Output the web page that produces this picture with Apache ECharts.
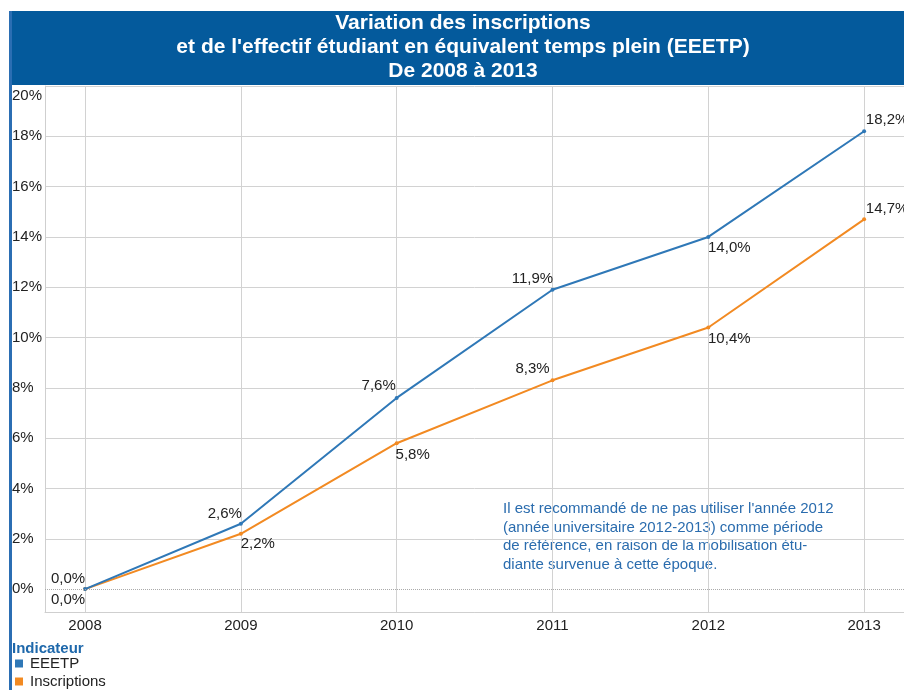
<!DOCTYPE html>
<html>
<head>
<meta charset="utf-8">
<script src="https://cdn.jsdelivr.net/npm/echarts@6/dist/echarts.min.js"></script>
<style>
  html, body { margin: 0; padding: 0; background: #fff; }
  #chart { width: 904px; height: 690px; }
</style>
</head>
<body>
<div id="chart"></div>
<script>
// donnees
var years = [2008, 2009, 2010, 2011, 2012, 2013];
var eeetp = [0.0, 2.6, 7.6, 11.9, 14.0, 18.2];
var inscriptions = [0.0, 2.2, 5.8, 8.3, 10.4, 14.7];
var seriesNames = ['EEETP', 'Inscriptions'];

// decalage des etiquettes (px) par point
var eeetpOffsets = [[-17, -10], [-16, -10], [-18, -12], [-20, -11], [21, 11], [23, -11]];
var inscrOffsets = [[-17, 11], [17, 10], [16, 12], [-20, -11], [21, 11], [23, -10]];

var blue = '#2f78b7';
var orange = '#f28a22';

function fmtPct(v) {
    return v.toFixed(1).replace('.', ',') + '%';
}

function buildData(vals, offsets) {
    return vals.map(function (v, i) {
        return {
            value: [years[i], v],
            label: { offset: offsets[i] }
        };
    });
}

var chart = echarts.init(document.getElementById('chart'));

var option = {
    animation: false,
    textStyle: { fontFamily: 'Liberation Sans, Arial, sans-serif' },
    graphic: [
        { type: 'rect', shape: { x: 9, y: 11, width: 900, height: 74 }, style: { fill: '#045a9c' } },
        { type: 'rect', shape: { x: 9, y: 11, width: 3, height: 690 }, style: { fill: '#2b6eb3' } },
        {
            type: 'text', left: 503, top: 500,
            style: {
                text: "Il est recommandé de ne pas utiliser l'année 2012\n(année universitaire 2012-2013) comme période\nde référence, en raison de la mobilisation étu-\ndiante survenue à cette époque.",
                font: '15px "Liberation Sans", Arial, sans-serif',
                lineHeight: 18.5,
                fill: '#2a6cae'
            }
        }
    ],
    title: [{
        text: "Variation des inscriptions\net de l'effectif étudiant en équivalent temps plein (EEETP)\nDe 2008 à 2013",
        left: 458,
        top: 6,
        textAlign: 'center',
        textStyle: { color: '#fff', fontSize: 21, fontWeight: 'bold', lineHeight: 24 }
    }, {
        text: 'Indicateur',
        left: 12,
        top: 641,
        padding: 0,
        textStyle: { color: '#1e68ab', fontSize: 15, fontWeight: 'bold' }
    }],
    legend: {
        data: seriesNames,
        orient: 'vertical',
        left: 15,
        top: 656,
        padding: 0,
        itemGap: 3,
        itemWidth: 8,
        itemHeight: 8,
        icon: 'rect',
        textStyle: { fontSize: 15, lineHeight: 15, color: '#222', padding: [0, 0, 0, 2] }
    },
    grid: { left: 45, right: 0, top: 86, bottom: 78 },
    xAxis: {
        type: 'value',
        min: 2007.743,
        max: 2013.256,
        minInterval: 1,
        maxInterval: 1,
        axisLine: { onZero: false, lineStyle: { color: '#cfcfcf' } },
        axisTick: { show: false },
        axisLabel: {
            showMinLabel: false,
            showMaxLabel: false,
            margin: 6,
            fontSize: 15,
            color: '#222',
            formatter: function (v) { return String(v); }
        },
        splitLine: { show: true, lineStyle: { color: '#d2d2d2' } }
    },
    yAxis: {
        type: 'value',
        min: -0.91,
        max: 20,
        splitNumber: 10,
        minInterval: 2,
        maxInterval: 2,
        axisLine: { show: true, lineStyle: { color: '#cfcfcf' } },
        axisTick: { show: false },
        axisLabel: {
            showMinLabel: false,
            align: 'left',
            margin: 33,
            fontSize: 15,
            color: '#222',
            formatter: function (v) {
                return v === 20 ? '{t|' + v + '%}' : v + '%';
            },
            rich: { t: { fontSize: 15, color: '#222', padding: [20, 0, 0, 0] } }
        },
        splitLine: {
            show: true,
            lineStyle: {
                color: ['#d2d2d2', 'transparent', '#d2d2d2', '#d2d2d2', '#d2d2d2', '#d2d2d2',
                    '#d2d2d2', '#d2d2d2', '#d2d2d2', '#d2d2d2', '#d2d2d2', '#d2d2d2']
            }
        }
    },
    series: [{
        name: seriesNames[0],
        type: 'line',
        data: buildData(eeetp, eeetpOffsets),
        symbol: 'circle',
        symbolSize: 4,
        itemStyle: { color: blue },
        lineStyle: { color: blue, width: 2 },
        label: {
            show: true,
            position: 'inside',
            fontSize: 15,
            color: '#222',
            formatter: function (p) { return fmtPct(p.value[1]); }
        },
        markLine: {
            silent: true,
            symbol: 'none',
            label: { show: false },
            lineStyle: { color: '#aaa', type: 'dotted', width: 1 },
            data: [{ yAxis: 0 }]
        },
        z: 3
    }, {
        name: seriesNames[1],
        type: 'line',
        data: buildData(inscriptions, inscrOffsets),
        symbol: 'circle',
        symbolSize: 4,
        itemStyle: { color: orange },
        lineStyle: { color: orange, width: 2 },
        label: {
            show: true,
            position: 'inside',
            fontSize: 15,
            color: '#222',
            formatter: function (p) { return fmtPct(p.value[1]); }
        },
        z: 2
    }]
};

chart.setOption(option);
window.onresize = chart.resize;
</script>
</body>
</html>
